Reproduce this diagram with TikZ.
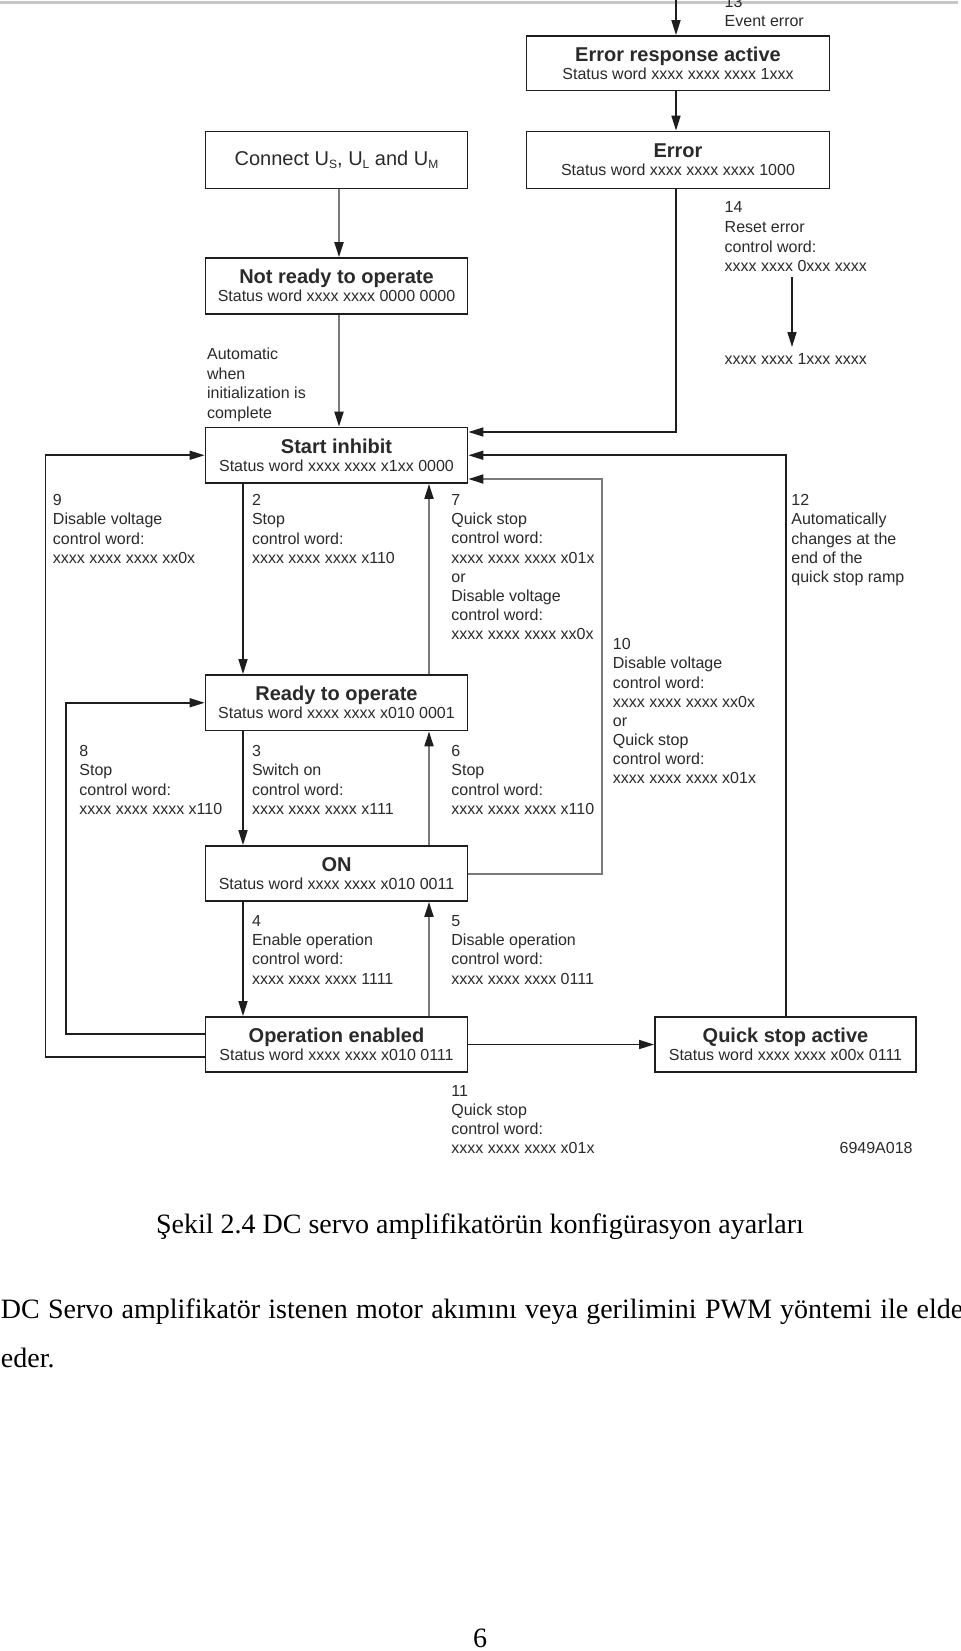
\documentclass[tikz,border=0pt]{standalone}
\usepackage{fontspec}
\setmainfont{Liberation Serif}
\newfontfamily\dia{Liberation Sans}
\usetikzlibrary{arrows.meta}
\definecolor{ln}{HTML}{1E1E1E}
\definecolor{gl}{HTML}{7A7A7A}
\definecolor{tx}{HTML}{2A2A2A}
\definecolor{topline}{HTML}{C6C6C6}
\newcommand{\sbs}[1]{\raisebox{-0.35ex}{\fontsize{6}{6}\selectfont #1}}
\tikzset{
  box/.style={draw=ln, line width=0.9pt, rectangle, inner sep=0pt, fill=white},
  ttl/.style={font=\dia\bfseries\fontsize{10}{12}\selectfont, text=tx, inner sep=0pt, anchor=base},
  sts/.style={font=\dia\fontsize{8}{9.55}\selectfont, text=tx, inner sep=0pt, anchor=base},
  lbl/.style={font=\dia\fontsize{8}{9.55}\selectfont, text=tx, inner sep=0pt, anchor=north west, align=left},
  lblw/.style={font=\dia\fontsize{8}{9.85}\selectfont, text=tx, inner sep=0pt, anchor=north west, align=left},
  lblb/.style={font=\dia\fontsize{8}{9.55}\selectfont, text=tx, inner sep=0pt, anchor=base west},
  blk/.style={draw=ln, line width=0.8pt, -{Triangle[length=7.5pt,width=4.5pt]}},
  gry/.style={draw=gl, line width=1pt, -{Triangle[length=7.5pt,width=4.5pt,color=ln]}},
  body/.style={font=\fontsize{14}{16}\selectfont, inner sep=0pt},
}
\begin{document}
\begin{tikzpicture}[x=0.5pt,y=-0.5pt]
\useasboundingbox (0,0) rectangle (960,1651);
\begin{scope}
\clip (0,0) rectangle (960,1651);
\fill[white] (0,0) rectangle (960,1651);
\draw[topline, line width=1.5pt] (0,2.7) -- (958,2.7);

% boxes
\node[box, minimum width=151.5pt, minimum height=27.25pt] (era) at (678,63.25) {};
\node[box, minimum width=151.5pt, minimum height=28.5pt] (err) at (678,160) {};
\node[box, minimum width=131pt, minimum height=28.5pt] (conn) at (336.5,160) {};
\node[box, minimum width=131pt, minimum height=28pt] (nr) at (336.5,286) {};
\node[box, minimum width=131pt, minimum height=27.75pt] (si) at (336.5,455.25) {};
\node[box, minimum width=131pt, minimum height=27.75pt] (rdy) at (336.5,702.75) {};
\node[box, minimum width=131pt, minimum height=27.5pt] (on) at (336.5,873.5) {};
\node[box, minimum width=131pt, minimum height=27.5pt] (op) at (336.5,1044.5) {};
\node[box, minimum width=130.5pt, minimum height=27.5pt] (qsa) at (785.5,1044.5) {};

% box texts
\node[ttl] (era-t) at (678,61.7) {Error response active};
\node[sts] (era-s) at (678,79.8) {Status word xxxx xxxx xxxx 1xxx};
\node[ttl] (err-t) at (678,157.2) {Error};
\node[sts] (err-s) at (678,175.3) {Status word xxxx xxxx xxxx 1000};
\node[font=\dia\fontsize{10}{12}\selectfont, text=tx, inner sep=0pt, anchor=base] (conn-t) at (336.5,165) {Connect U\sbs{S}, U\sbs{L} and U\sbs{M}};
\node[ttl] (nr-t) at (336.5,283.7) {Not ready to operate};
\node[sts] (nr-s) at (336.5,301.8) {Status word xxxx xxxx 0000 0000};
\node[ttl] (si-t) at (336.5,453.2) {Start inhibit};
\node[sts] (si-s) at (336.5,471.3) {Status word xxxx xxxx x1xx 0000};
\node[ttl] (rdy-t) at (336.5,700.7) {Ready to operate};
\node[sts] (rdy-s) at (336.5,718.8) {Status word xxxx xxxx x010 0001};
\node[ttl] (on-t) at (336.5,871.7) {ON};
\node[sts] (on-s) at (336.5,889.8) {Status word xxxx xxxx x010 0011};
\node[ttl] (op-t) at (336.5,1042.7) {Operation enabled};
\node[sts] (op-s) at (336.5,1060.8) {Status word xxxx xxxx x010 0111};
\node[ttl] (qsa-t) at (785.5,1042.7) {Quick stop active};
\node[sts] (qsa-s) at (785.5,1060.8) {Status word xxxx xxxx x00x 0111};

% labels
\node[lblb] (l13) at (724.3,7) {13};
\node[lblb] (l13b) at (724.3,26) {Event error};
\node[lblw] (l14) at (724.3,201.3) {14\\Reset error\\control word:\\xxxx xxxx 0xxx xxxx};
\node[lblb] (l14b) at (724.3,364.2) {xxxx xxxx 1xxx xxxx};
\node[lblw] (lauto) at (206.7,347.3) {Automatic\\when\\initialization is\\complete};
\node[lbl] (l9) at (52.6,494.3) {9\\Disable voltage\\control word:\\xxxx xxxx xxxx xx0x};
\node[lbl] (l2) at (251.6,494.3) {2\\Stop\\control word:\\xxxx xxxx xxxx x110};
\node[lbl] (l7) at (451,494.3) {7\\Quick stop\\control word:\\xxxx xxxx xxxx x01x\\or\\Disable voltage\\control word:\\xxxx xxxx xxxx xx0x};
\node[lbl] (l12) at (791,494.3) {12\\Automatically\\changes at the\\end of the\\quick stop ramp};
\node[lbl] (l10) at (612.5,638.3) {10\\Disable voltage\\control word:\\xxxx xxxx xxxx xx0x\\or\\Quick stop\\control word:\\xxxx xxxx xxxx x01x};
\node[lbl] (l8) at (79,745.3) {8\\Stop\\control word:\\xxxx xxxx xxxx x110};
\node[lbl] (l3) at (251.6,745.3) {3\\Switch on\\control word:\\xxxx xxxx xxxx x111};
\node[lbl] (l6) at (451,745.3) {6\\Stop\\control word:\\xxxx xxxx xxxx x110};
\node[lbl] (l4) at (251.6,915.3) {4\\Enable operation\\control word:\\xxxx xxxx xxxx 1111};
\node[lbl] (l5) at (451,915.3) {5\\Disable operation\\control word:\\xxxx xxxx xxxx 0111};
\node[lbl] (l11) at (451,1084.8) {11\\Quick stop\\control word:\\xxxx xxxx xxxx x01x};
\node[font=\dia\fontsize{8}{9.55}\selectfont, text=tx, inner sep=0pt, anchor=base east] (code) at (913,1153.7) {6949A018};

% coordinates
\coordinate (xe) at (676,0);
\coordinate (ye) at (0,432);
\coordinate (a14s) at (792,277);
\coordinate (a14e) at (792,347);
\coordinate (xm) at (339,0);
\coordinate (xl) at (243,0);
\coordinate (xr) at (429,0);
\coordinate (x10) at (602,0);
\coordinate (y10) at (0,479);
\coordinate (x12) at (786,0);
\coordinate (x9) at (45.5,0);
\coordinate (y9) at (0,1057);
\coordinate (x8) at (66,0);
\coordinate (y8) at (0,1034);

% connectors
\draw[blk] (xe) -- (era.north -| xe);
\draw[blk] (era.south -| xe) -- (err.north -| xe);
\draw[blk] (err.south -| xe) |- (si.east |- ye);
\draw[blk] (a14s) -- (a14e);
\draw[gry] (conn.south -| xm) -- (nr.north -| xm);
\draw[gry] (nr.south -| xm) -- (si.north -| xm);
\draw[blk] (si.south -| xl) -- (rdy.north -| xl);
\draw[blk] (rdy.south -| xl) -- (on.north -| xl);
\draw[blk] (on.south -| xl) -- (op.north -| xl);
\draw[gry] (rdy.north -| xr) -- (si.south -| xr);
\draw[gry] (on.north -| xr) -- (rdy.south -| xr);
\draw[gry] (op.north -| xr) -- (on.south -| xr);
\draw[gry] (on.east) -| (x10 |- y10) -- (si.east |- y10);
\draw[blk] (qsa.north -| x12) |- (si.east);
\draw[blk] (op.west |- y9) -| (x9 |- si.west) -- (si.west);
\draw[blk] (op.west |- y8) -| (x8 |- rdy.west) -- (rdy.west);
\draw[blk] (op.east) -- (qsa.west);

% caption and text
\node[body, anchor=base] (cap) at (480,1233.3) {Şekil 2.4 DC servo amplifikatörün konfigürasyon ayarları};
\node[body, anchor=base west] (body1) at (0.5,1318.3) {\spaceskip=4.15pt DC Servo amplifikatör istenen motor akımını veya gerilimini PWM yöntemi ile elde};
\node[body, anchor=base west] (body2) at (0.5,1367.3) {eder.};
\node[body, anchor=base] (pg) at (480,1647.5) {6};
\end{scope}
\end{tikzpicture}
\end{document}
